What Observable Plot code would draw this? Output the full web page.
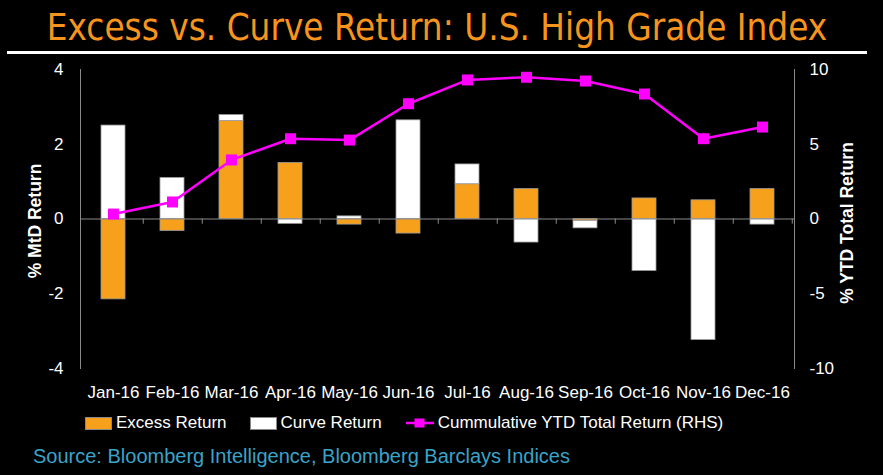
<!DOCTYPE html>
<html>
<head>
<meta charset="utf-8">
<script src="https://cdn.jsdelivr.net/npm/d3@7"></script>
<script src="https://cdn.jsdelivr.net/npm/@observablehq/plot@0.6"></script>
<style>
  html, body { margin: 0; padding: 0; background: #000; }
  body { width: 883px; height: 475px; overflow: hidden; font-family: "Liberation Sans", Arial, sans-serif; }
  #title { height: 51px; margin: 0 16px 0 7px; border-bottom: 3px solid #fff; color: #F7941D;
           font-family: "DejaVu Sans Condensed", "DejaVu Sans", sans-serif; font-size: 36.5px;
           text-align: center; line-height: 56px; white-space: nowrap; overflow: hidden; }
  #chart svg { display: block; }
  #legend { height: 30px; margin-top: 2px; display: flex; align-items: center; color: #fff; font-size: 17px; padding-left: 85px; }
  .item { display: flex; align-items: center; margin-right: 23px; }
  .sw { width: 27px; height: 13px; border: 1px solid #888; box-sizing: border-box; margin-right: 4px; }
  #source { color: #3BA3C8; font-size: 20px; padding-left: 33px; line-height: 36px; }
</style>
</head>
<body>
<div id="title">Excess vs. Curve Return: U.S. High Grade Index</div>
<div id="chart"></div>
<div id="legend"></div>
<div id="source">Source: Bloomberg Intelligence, Bloomberg Barclays Indices</div>
<script>
const months = ["Jan-16","Feb-16","Mar-16","Apr-16","May-16","Jun-16","Jul-16","Aug-16","Sep-16","Oct-16","Nov-16","Dec-16"];
const excessReturn = [-2.15, -0.32, 2.62, 1.50, -0.15, -0.39, 0.93, 0.80, -0.05, 0.55, 0.50, 0.80];
const curveReturn  = [2.50, 1.10, 0.16, -0.13, 0.07, 2.64, 0.53, -0.63, -0.20, -1.39, -3.24, -0.15];
const cumulativeYTD = [0.33, 1.14, 3.95, 5.37, 5.28, 7.71, 9.30, 9.48, 9.23, 8.36, 5.37, 6.15];
const leftTicks = [-4, -2, 0, 2, 4];
const rightTicks = [-10, -5, 0, 5, 10];
const seriesNames = ["Excess Return", "Curve Return", "Cummulative YTD Total Return (RHS)"];

const ORANGE = "#F7A01B", WHITE = "#FFFFFF", MAGENTA = "#FF00FF", GRID = "#8a8a8a";
const ratio = 4 / 10; // right axis -> left axis

const bars = [];
months.forEach((m, i) => {
  bars.push({month: m, series: seriesNames[0], value: excessReturn[i]});
  bars.push({month: m, series: seriesNames[1], value: curveReturn[i]});
});
const line = months.map((m, i) => ({month: m, v: cumulativeYTD[i]}));

const W = 883, H = 352, mL = 80, mR = 89;
const step = (W - mL - mR) / months.length;

const chart = Plot.plot({
  width: W, height: H,
  marginLeft: mL, marginRight: mR, marginTop: 15, marginBottom: 38,
  style: {background: "#000", color: "#fff", fontFamily: "Liberation Sans, Arial, sans-serif", fontSize: "16px"},
  x: {domain: months, paddingInner: 0.6, paddingOuter: 0.3, axis: null},
  y: {domain: [-4, 4], axis: null},
  color: {domain: seriesNames.slice(0, 2), range: [ORANGE, WHITE]},
  marks: [
    Plot.barY(bars, {x: "month", y: "value", fill: "series", order: seriesNames.slice(0, 2), stroke: "#999", strokeWidth: 0.8}),
    Plot.ruleY([0], {stroke: GRID, strokeWidth: 1}),
    Plot.ruleX(months, {x: d => d, y1: 0, y2: -0.14, dx: step / 2, stroke: GRID}),
    Plot.frame({anchor: "left", stroke: GRID}),
    Plot.frame({anchor: "right", stroke: GRID}),
    Plot.axisX({anchor: "bottom", tickSize: 0, tickPadding: 17, fontSize: 17, label: null}),
    Plot.axisY(leftTicks, {anchor: "left", tickSize: 0, tickPadding: 17, fontSize: 17, label: null, tickFormat: d => String(d)}),
    Plot.axisY(rightTicks.map(t => t * ratio), {anchor: "right", tickSize: 0, tickPadding: 15, fontSize: 17, label: null, tickFormat: d => String(Math.round(d / ratio))}),
    Plot.text(["% MtD Return"], {frameAnchor: "left", textAnchor: "middle", dx: -45, dy: 2, rotate: -90, fill: "#fff", fontWeight: "bold", fontSize: 17.5}),
    Plot.text(["% YTD Total Return"], {frameAnchor: "right", textAnchor: "middle", dx: 53, dy: 4, rotate: -90, fill: "#fff", fontWeight: "bold", fontSize: 17.5}),
    Plot.line(line, {x: "month", y: d => d.v * ratio, stroke: MAGENTA, strokeWidth: 2.5}),
    Plot.dot(line, {x: "month", y: d => d.v * ratio, symbol: "square", fill: MAGENTA, r: 6.2})
  ]
});
document.getElementById("chart").appendChild(chart);

const legend = document.getElementById("legend");
const mk = (html) => { const d = document.createElement("div"); d.className = "item"; d.innerHTML = html; legend.appendChild(d); };
mk(`<span class="sw" style="background:${ORANGE}"></span><span>${seriesNames[0]}</span>`);
mk(`<span class="sw" style="background:${WHITE}"></span><span>${seriesNames[1]}</span>`);
mk(`<svg width="30" height="14" style="margin-right:3px"><line x1="1" y1="7" x2="29" y2="7" stroke="${MAGENTA}" stroke-width="2.5"/><rect x="9.5" y="2.5" width="10" height="9" fill="${MAGENTA}"/></svg><span>${seriesNames[2]}</span>`);
</script>
</body>
</html>
